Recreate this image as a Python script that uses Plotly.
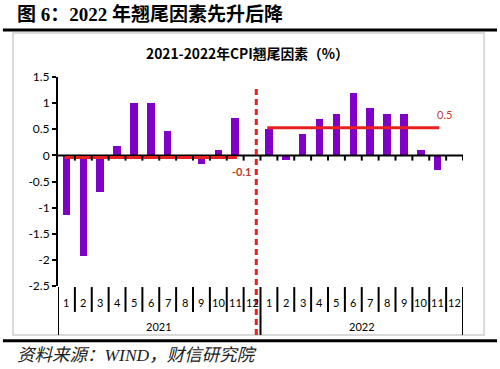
import plotly.graph_objects as go

# ---------------- data ----------------
years = ["2021", "2022"]
months = ["1", "2", "3", "4", "5", "6", "7", "8", "9", "10", "11", "12"]
values_2021 = [-1.15, -1.92, -0.71, 0.18, 1.0, 1.0, 0.46, 0.0, -0.17, 0.1, 0.72, 0.0]
values_2022 = [0.5, -0.08, 0.4, 0.7, 0.8, 1.2, 0.9, 0.8, 0.8, 0.1, -0.28, 0.0]
avg_values = [-0.04, 0.53]          # where the average lines are drawn
avg_labels = ["-0.1", "0.5"]        # printed labels
y_tickvals = [1.5, 1.0, 0.5, 0.0, -0.5, -1.0, -1.5, -2.0, -2.5]
y_ticktext = ["1.5", "1", "0.5", "0", "-0.5", "-1", "-1.5", "-2", "-2.5"]

fig_title = "图 6：2022 年翘尾因素先升后降"
chart_title = "2021-2022年CPI翘尾因素（%）"
source_text = "资料来源：WIND，财信研究院"

# ---------------- derived ----------------
values = values_2021 + values_2022
n = len(values)
xs = list(range(n))
n_m = len(months)

BAR = "#8000C8"
RED = "#E8211E"
LBL = "#C0392B"
NUM_FONT = "Lato, Noto Sans CJK SC, sans-serif"
CJK_FONT = "Noto Sans CJK SC, sans-serif"
SERIF = "Liberation Serif, Noto Sans CJK SC, serif"

fig = go.Figure()
fig.add_trace(go.Bar(x=xs, y=values, marker=dict(color=BAR, line=dict(width=0)),
                     width=0.45, showlegend=False))

# zero axis line (black)
fig.add_trace(go.Scatter(x=[-0.5, n - 0.5], y=[0, 0], mode="lines",
                         line=dict(color="black", width=2), showlegend=False,
                         hoverinfo="skip"))

# average lines per year
for k, (avg, lab) in enumerate(zip(avg_values, avg_labels)):
    off = k * n_m
    x0, x1 = off - 0.1, off + 10 + 0.1
    fig.add_trace(go.Scatter(x=[x0, x1], y=[avg, avg], mode="lines",
                             line=dict(color=RED, width=3), showlegend=False,
                             hoverinfo="skip"))
    fig.add_annotation(x=x1, y=avg, xref="x", yref="y", text=lab, showarrow=False,
                       xshift=5, yshift=(-14 if avg < 0 else 13),
                       xanchor="center", yanchor="middle",
                       font=dict(family=NUM_FONT, size=11, color=LBL,
                                 weight=("bold" if avg < 0 else "normal")))

# tick marks on the zero line at category boundaries
tx, ty = [], []
for i in range(1, n + 1):
    b = i - 0.5
    tx += [b, b, None]
    ty += [0, -0.1, None]
fig.add_trace(go.Scatter(x=tx, y=ty, mode="lines", line=dict(color="black", width=2),
                         showlegend=False, hoverinfo="skip"))

shapes = []
# red dashed divider between years
divider_x = n_m - 0.75
shapes.append(dict(type="line", xref="x", yref="paper", x0=divider_x, x1=divider_x,
                   y0=-0.234, y1=0.95, line=dict(color=RED, width=3, dash="6px,4px")))

# category separators below plot
for i in range(0, n + 1):
    b = i - 0.5
    is_year = (i % n_m == 0)
    shapes.append(dict(type="line", xref="x", yref="paper", x0=b, x1=b,
                       y0=(-0.234 if is_year else -0.124), y1=-0.005,
                       line=dict(color="black", width=2)))

# chart frame (light gray)
shapes.append(dict(type="rect", xref="paper", yref="paper", x0=-0.111, x1=1.052,
                   y0=-0.234, y1=1.2105, line=dict(color="#D9D9D9", width=2),
                   layer="below"))
# heavy rules above and below the chart
shapes.append(dict(type="line", xref="paper", yref="paper", x0=-0.136, x1=1.084,
                   y0=1.225, y1=1.225, line=dict(color="black", width=3)))
shapes.append(dict(type="line", xref="paper", yref="paper", x0=-0.136, x1=1.084,
                   y0=-0.2615, y1=-0.2615, line=dict(color="black", width=3)))

annotations = []
for i in range(n):
    annotations.append(dict(x=i, y=-0.0813, xref="x", yref="paper",
                            text=months[i % n_m], showarrow=False,
                            xanchor="center", yanchor="middle",
                            font=dict(family=NUM_FONT, size=11, color="black")))
for k, yr in enumerate(years):
    annotations.append(dict(x=k * n_m + (n_m - 1) / 2, y=-0.196, xref="x", yref="paper",
                            text=yr, showarrow=False, xanchor="center", yanchor="middle",
                            font=dict(family=NUM_FONT, size=11, color="black")))
annotations.append(dict(x=0.467, y=1.113, xref="paper", yref="paper", text=chart_title,
                        showarrow=False, xanchor="center", yanchor="middle",
                        font=dict(family=CJK_FONT, size=13.8, color="black",
                                  weight="bold")))
annotations.append(dict(x=-0.106, y=1.302, xref="paper", yref="paper", text=fig_title,
                        xanchor="left", yanchor="middle", showarrow=False,
                        font=dict(family=SERIF, size=19, color="black", weight="bold")))
annotations.append(dict(x=-0.106, y=-0.33, xref="paper", yref="paper", text=source_text,
                        xanchor="left", yanchor="middle", showarrow=False,
                        font=dict(family=SERIF, size=17.5, color="#222222",
                                  style="italic")))
for a in annotations:
    fig.add_annotation(**a)

fig.update_layout(
    width=500, height=369,
    margin=dict(l=58, r=37, t=77, b=83),
    paper_bgcolor="white", plot_bgcolor="white",
    shapes=shapes,
    bargap=0,
    xaxis=dict(range=[-0.5, n - 0.5], visible=False, fixedrange=True),
    yaxis=dict(range=[-2.5, 1.5], tickvals=y_tickvals, ticktext=y_ticktext,
               showgrid=False, zeroline=False, showline=True, linecolor="black",
               linewidth=2, ticks="outside", ticklen=4, tickwidth=2, tickcolor="black",
               tickfont=dict(family=NUM_FONT, size=12, color="black")),
)

# remove the browser's default 8px body margin so the figure fills the window
fig.write_html("out.html", config={"displayModeBar": False},
               post_script="document.body.style.margin='0px';")
